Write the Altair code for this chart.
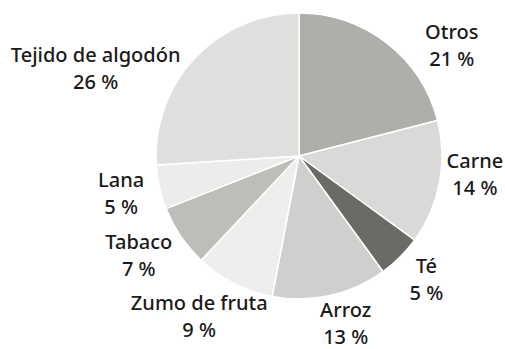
import altair as alt
import pandas as pd

# Share of each product (percent), clockwise from 12 o'clock
categories = ["Otros", "Carne", "Té", "Arroz", "Zumo de fruta", "Tabaco", "Lana", "Tejido de algodón"]
shares = [21, 14, 5, 13, 9, 7, 5, 26]
colors = ["#afaeab", "#dad9d7", "#6b6a66", "#d0cfcd", "#eeeeec", "#bebdba", "#ececea", "#dfdfdd"]

# Label placement: angle (in percent units of the circle) and distance from centre (px)
label_angle = [15.1, 26.8, 37.3, 45.7, 58.8, 66.1, 71.6, 81.4]
label_radius = [188, 177, 178, 175, 190, 189, 182, 221]

df = pd.DataFrame({
    "cat": categories,
    "share": shares,
    "order": list(range(len(categories))),
    "la": label_angle,
    "lr": label_radius,
})
df["label"] = [f"{c}\n{s} %" for c, s in zip(categories, shares)]

color_scale = alt.Scale(domain=categories, range=colors)
theta_scale = alt.Scale(domain=[0, 100])

pie = alt.Chart(df).mark_arc(
    outerRadius=143, stroke="white", strokeWidth=1.5
).encode(
    theta=alt.Theta("share:Q", stack=True, scale=theta_scale),
    order=alt.Order("order:Q"),
    color=alt.Color("cat:N", scale=color_scale, legend=None),
)

# two-line labels; dy lifts the block so it is centred on its anchor
labels = alt.Chart(df).mark_text(
    font="Noto Sans", fontSize=20, fontWeight=500, color="#1a1a1a", lineBreak="\n", lineHeight=27,
    align="center", baseline="middle", dy=-13.5,
).encode(
    theta=alt.Theta("la:Q", stack=None, scale=theta_scale),
    radius=alt.Radius("lr:Q", scale=alt.Scale(type="linear", domain=[0, 250], range=[0, 250], zero=True)),
    text="label:N",
)

chart = alt.layer(pie, labels).properties(
    width=300, height=300,
    autosize=alt.AutoSizeParams(type="none"),
    padding={"left": 149, "top": 6, "right": 56, "bottom": 43},
    background="white",
).configure_view(stroke=None)

chart.save("out.html", embed_options={"renderer": "svg", "actions": False})
